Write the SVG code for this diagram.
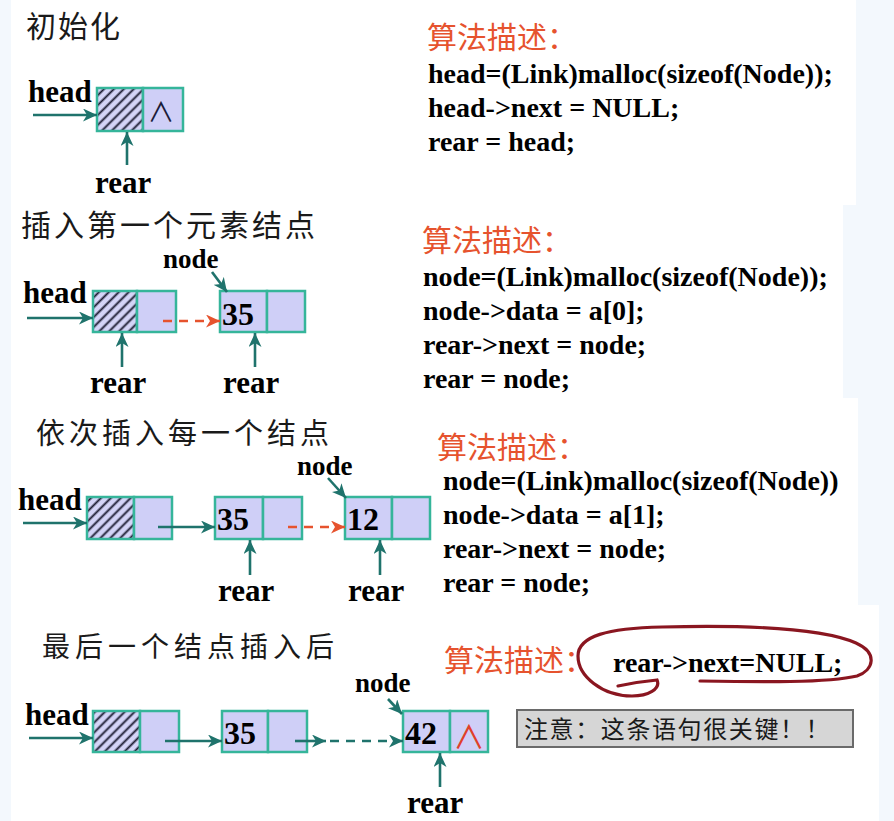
<svg xmlns="http://www.w3.org/2000/svg" width="894" height="821" viewBox="0 0 894 821">
<defs>
<style>
.bg{fill:#f3f8fd}
.cjk{font-family:"Noto Sans CJK SC","Noto Sans",sans-serif;fill:#1a1a1a}
.algo{font-family:"Noto Sans CJK SC",sans-serif;fill:#e6532e;font-size:30px}
.code{font-family:"Liberation Serif","Times New Roman",serif;font-weight:bold;font-size:28px;fill:#000}
.lbl{font-family:"Liberation Serif","Times New Roman",serif;font-weight:bold;font-size:31px;fill:#000}
.nl{font-family:"Liberation Serif","Times New Roman",serif;font-weight:bold;font-size:27px;fill:#000}
.num{font-family:"Liberation Serif","Times New Roman",serif;font-weight:bold;font-size:32px;fill:#000}
.cell{fill:#cfcff7;stroke:#35b59a;stroke-width:2.5}
.hatch{fill:url(#hp);stroke:#35b59a;stroke-width:2.5}
.arr{stroke:#1f736c;stroke-width:2.6;fill:none;marker-end:url(#ah)}
.red{stroke:#e6532e;stroke-width:2.6;fill:none;stroke-dasharray:9 7;marker-end:url(#ahr)}
.dash{stroke:#1f736c;stroke-width:2.6;fill:none;stroke-dasharray:9 7;marker-end:url(#ah)}
</style>
<pattern id="hp" patternUnits="userSpaceOnUse" width="7" height="7" patternTransform="rotate(45)">
<rect width="7" height="7" fill="#d4d4f7"/>
<line x1="3.5" y1="0" x2="3.5" y2="7" stroke="#1b1b30" stroke-width="1.9"/>
</pattern>
<marker id="ah" markerUnits="userSpaceOnUse" markerWidth="15" markerHeight="13" refX="14" refY="6.5" orient="auto">
<path d="M0,0 L14,6.5 L0,13 L4,6.5 z" fill="#1f736c"/>
</marker>
<marker id="ahr" markerUnits="userSpaceOnUse" markerWidth="15" markerHeight="13" refX="14" refY="6.5" orient="auto">
<path d="M0,0 L14,6.5 L0,13 L4,6.5 z" fill="#e6532e"/>
</marker>
</defs>
<rect width="894" height="821" fill="#ffffff"/>
<rect class="bg" x="0" y="0" width="11" height="821"/>
<path class="bg" d="M856,0 H894 V821 H879 V605 H858 V398 H843 V205 H856 z"/>

<!-- Section 1 -->
<g id="title1"><text class="cjk" x="26" y="37" font-size="30" letter-spacing="2">初始化</text></g>
<g id="algo1">
<text class="algo" x="427" y="48">算法描述：</text>
<text class="code" x="428" y="83">head=(Link)malloc(sizeof(Node));</text>
<text class="code" x="428" y="117">head-&gt;next = NULL;</text>
<text class="code" x="428" y="151">rear = head;</text>
</g>
<g id="s1-head-node">
<rect class="hatch" x="97" y="88" width="46" height="43"/>
<rect class="cell" x="143" y="88" width="40" height="43"/>
<text x="161" y="122" text-anchor="middle" font-family="Noto Sans CJK SC,DejaVu Sans,sans-serif" font-size="27" fill="#1b1b3a">∧</text>
</g>
<g id="s1-labels">
<text class="lbl" x="28" y="102">head</text>
<text class="lbl" x="95" y="193">rear</text>
</g>

<!-- Section 2 -->
<g id="title2"><text class="cjk" x="21" y="236" font-size="30" letter-spacing="3">插入第一个元素结点</text></g>
<g id="algo2">
<text class="algo" x="422" y="251">算法描述：</text>
<text class="code" x="423" y="286">node=(Link)malloc(sizeof(Node));</text>
<text class="code" x="423" y="320">node-&gt;data = a[0];</text>
<text class="code" x="423" y="354">rear-&gt;next = node;</text>
<text class="code" x="423" y="388">rear = node;</text>
</g>
<g id="s2-head-node">
<rect class="hatch" x="93" y="291" width="44" height="41"/>
<rect class="cell" x="137" y="291" width="39" height="41"/>
</g>
<g id="s2-node35">
<rect class="cell" x="220" y="291" width="47" height="41"/>
<rect class="cell" x="267" y="291" width="38" height="41"/>
<text class="num" x="222" y="325">35</text>
</g>
<g id="s2-labels">
<text class="lbl" x="23" y="303">head</text>
<text class="nl" x="163" y="268">node</text>
<text class="lbl" x="90" y="393">rear</text>
<text class="lbl" x="223" y="393">rear</text>
</g>

<!-- Section 3 -->
<g id="title3"><text class="cjk" x="36" y="444" font-size="29" letter-spacing="4">依次插入每一个结点</text></g>
<g id="algo3">
<text class="algo" x="437" y="458">算法描述：</text>
<text class="code" x="443" y="490">node=(Link)malloc(sizeof(Node))</text>
<text class="code" x="443" y="524">node-&gt;data = a[1];</text>
<text class="code" x="443" y="558">rear-&gt;next = node;</text>
<text class="code" x="443" y="592">rear = node;</text>
</g>
<g id="s3-head-node">
<rect class="hatch" x="87" y="497" width="47" height="42"/>
<rect class="cell" x="134" y="497" width="38" height="42"/>
</g>
<g id="s3-node35">
<rect class="cell" x="215" y="497" width="48" height="42"/>
<rect class="cell" x="263" y="497" width="39" height="42"/>
<text class="num" x="217" y="530">35</text>
</g>
<g id="s3-node12">
<rect class="cell" x="345" y="497" width="47" height="42"/>
<rect class="cell" x="392" y="497" width="38" height="42"/>
<text class="num" x="347" y="530">12</text>
</g>
<g id="s3-labels">
<text class="lbl" x="18" y="510">head</text>
<text class="nl" x="297" y="475">node</text>
<text class="lbl" x="218" y="601">rear</text>
<text class="lbl" x="348" y="601">rear</text>
</g>

<!-- Section 4 -->
<g id="title4"><text class="cjk" x="42" y="657" font-size="28" letter-spacing="5">最后一个结点插入后</text></g>
<g id="algo4">
<text class="algo" x="444" y="671">算法描述：</text>
<text class="code" x="613" y="672">rear-&gt;next=NULL;</text>
<path d="M618,686 C632,683 646,681 657,680 C661,689 648,696 632,696 C602,696 578,676 578,656 C578,636 608,628 662,627 C742,625 822,628 856,643 C878,653 874,670 857,676 C828,683 760,682 700,681" fill="none" stroke="#8a1620" stroke-width="3.2" stroke-linecap="round"/>
</g>
<g id="note">
<rect x="517" y="710" width="336" height="37" fill="#d6d6d6" stroke="#6a6a6a" stroke-width="2"/>
<text class="cjk" x="524" y="738" font-size="24" letter-spacing="1.6" fill="#222">注意：这条语句很关键！！</text>
</g>
<g id="s4-head-node">
<rect class="hatch" x="93" y="711" width="47" height="41"/>
<rect class="cell" x="140" y="711" width="39" height="41"/>
</g>
<g id="s4-node35">
<rect class="cell" x="222" y="711" width="46" height="41"/>
<rect class="cell" x="268" y="711" width="39" height="41"/>
<text class="num" x="224" y="744">35</text>
</g>
<g id="s4-node42">
<rect class="cell" x="403" y="711" width="47" height="41"/>
<rect class="cell" x="450" y="711" width="38" height="41"/>
<text class="num" x="405" y="744">42</text>
<text x="469" y="749" text-anchor="middle" font-family="Noto Sans CJK SC,DejaVu Sans,sans-serif" font-size="32" fill="#e0402a">∧</text>
</g>
<g id="s4-labels">
<text class="lbl" x="25" y="725">head</text>
<text class="nl" x="355" y="692">node</text>
<text class="lbl" x="407" y="813">rear</text>
</g>

<g id="connectors">
<!-- section 1 -->
<line class="arr" x1="33" y1="115" x2="97" y2="115"/>
<line class="arr" x1="127" y1="165" x2="127" y2="132"/>
<!-- section 2 -->
<line class="arr" x1="27" y1="318" x2="93" y2="318"/>
<line class="red" x1="163" y1="321" x2="220" y2="321"/>
<line class="arr" x1="212" y1="272" x2="227" y2="292"/>
<line class="arr" x1="122" y1="367" x2="122" y2="333"/>
<line class="arr" x1="255" y1="367" x2="255" y2="333"/>
<!-- section 3 -->
<line class="arr" x1="23" y1="523" x2="87" y2="523"/>
<line class="arr" x1="158" y1="527" x2="215" y2="527"/>
<line class="red" x1="288" y1="527" x2="345" y2="527"/>
<line class="arr" x1="328" y1="478" x2="346" y2="498"/>
<line class="arr" x1="250" y1="575" x2="250" y2="540"/>
<line class="arr" x1="380" y1="575" x2="380" y2="540"/>
<!-- section 4 -->
<line class="arr" x1="29" y1="738" x2="93" y2="738"/>
<line class="arr" x1="165" y1="741" x2="222" y2="741"/>
<line class="arr" x1="295" y1="741" x2="326" y2="741"/>
<line class="dash" x1="330" y1="741" x2="403" y2="741"/>
<line class="arr" x1="388" y1="699" x2="402" y2="714"/>
<line class="arr" x1="440" y1="787" x2="440" y2="753"/>
</g>
</svg>
